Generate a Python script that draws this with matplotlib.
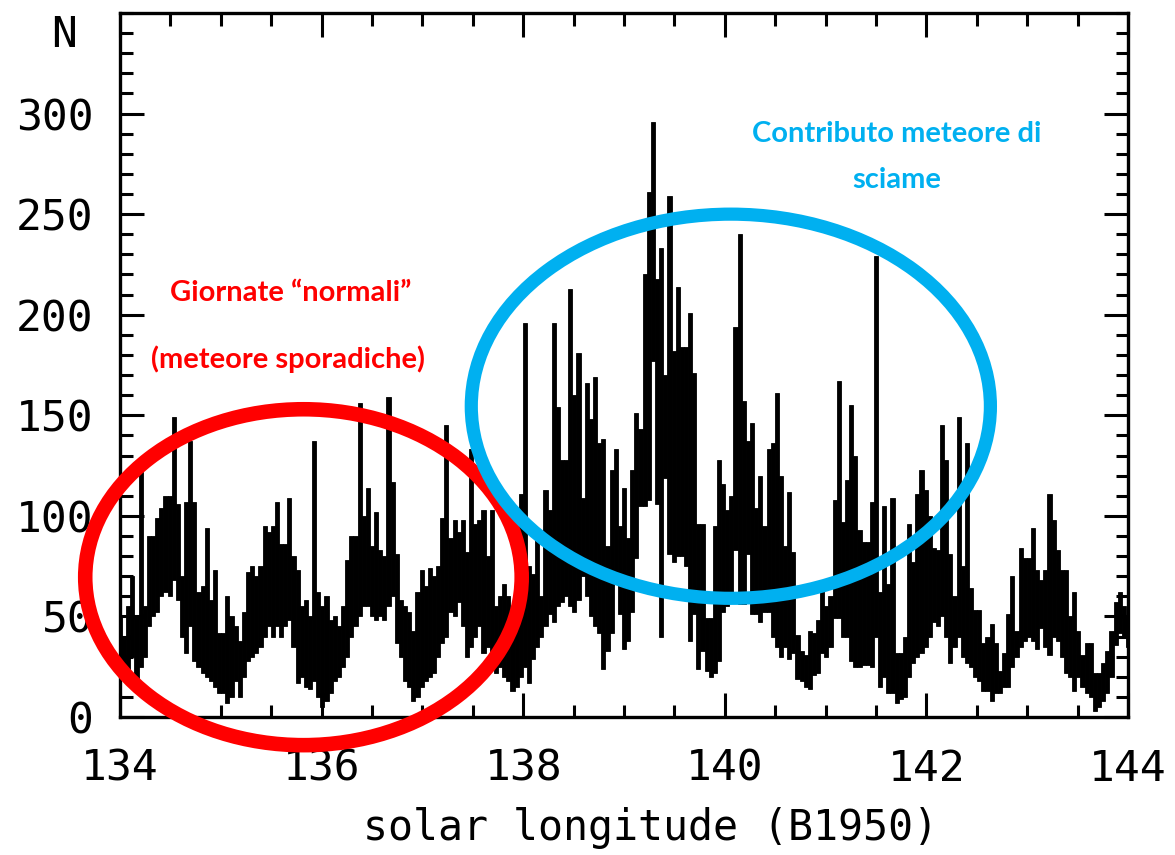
import numpy as np
import matplotlib
matplotlib.use("Agg")
import matplotlib.pyplot as plt
from matplotlib.patches import Ellipse
from matplotlib.ticker import MultipleLocator

# Counts per hourly bin, solar longitude 134 -> 144 (B1950):
# lowest and highest value reached inside each bin.
LON_START = 134.0
LON_END = 144.0
N_HIGH = [
    50, 40, 55, 70, 50, 122, 55, 90, 90, 99, 104, 110, 110, 149, 106, 70, 107, 137, 107, 62,
    65, 94, 58, 73, 42, 42, 60, 50, 45, 38, 52, 72, 75, 70, 75, 95, 92, 95, 107, 86,
    86, 109, 80, 73, 55, 58, 50, 137, 62, 55, 60, 48, 50, 45, 55, 78, 90, 90, 156, 100,
    114, 85, 102, 83, 80, 159, 117, 81, 58, 55, 52, 43, 62, 73, 65, 74, 70, 75, 99, 145,
    89, 98, 92, 98, 82, 133, 96, 98, 103, 80, 103, 55, 60, 66, 60, 45, 50, 111, 196, 75,
    71, 88, 60, 113, 103, 196, 154, 128, 128, 213, 160, 181, 109, 166, 148, 169, 136, 138, 85, 123,
    133, 95, 114, 89, 123, 151, 143, 220, 261, 296, 218, 233, 170, 259, 182, 214, 184, 184, 201, 171,
    96, 96, 49, 49, 95, 128, 116, 103, 110, 194, 240, 157, 137, 146, 104, 120, 95, 133, 136, 161,
    120, 85, 112, 82, 41, 33, 31, 43, 42, 48, 63, 55, 60, 108, 167, 97, 118, 155, 130, 93,
    87, 87, 107, 229, 62, 105, 66, 109, 32, 32, 40, 96, 77, 111, 123, 113, 100, 84, 83, 145,
    128, 81, 60, 149, 75, 136, 64, 53, 53, 37, 40, 46, 37, 23, 32, 51, 70, 43, 84, 79,
    79, 94, 73, 68, 73, 111, 98, 83, 73, 73, 50, 62, 43, 31, 37, 37, 22, 22, 27, 33,
    43, 57, 62, 55, 50,
]
N_LOW = [
    25, 20, 22, 30, 18, 25, 30, 45, 50, 52, 60, 62, 60, 68, 58, 40, 32, 45, 28, 25,
    22, 20, 18, 15, 12, 12, 7, 10, 18, 10, 20, 28, 30, 32, 35, 40, 45, 40, 45, 40,
    45, 48, 35, 17, 20, 15, 14, 18, 10, 5, 8, 12, 18, 20, 25, 30, 40, 45, 50, 55,
    55, 50, 48, 50, 48, 55, 60, 37, 30, 18, 15, 8, 10, 15, 18, 20, 22, 30, 37, 40,
    52, 50, 57, 45, 30, 35, 40, 45, 32, 35, 30, 22, 25, 20, 18, 13, 15, 20, 25, 17,
    29, 35, 40, 45, 51, 47, 55, 57, 60, 55, 52, 58, 70, 60, 50, 45, 42, 24, 33, 42,
    66, 51, 34, 38, 52, 79, 105, 105, 108, 177, 106, 40, 119, 81, 77, 80, 80, 75, 38, 51,
    24, 33, 23, 20, 22, 28, 52, 55, 60, 83, 56, 56, 81, 51, 51, 47, 52, 52, 40, 35,
    30, 35, 29, 32, 19, 18, 15, 14, 21, 22, 32, 30, 35, 49, 49, 40, 40, 28, 25, 25,
    26, 26, 25, 40, 15, 20, 12, 12, 7, 9, 10, 20, 27, 30, 32, 35, 40, 47, 45, 50,
    40, 27, 35, 40, 30, 27, 25, 20, 18, 13, 13, 8, 12, 12, 15, 15, 25, 30, 35, 38,
    40, 38, 34, 44, 35, 31, 40, 38, 30, 22, 20, 13, 20, 15, 12, 10, 3, 5, 8, 12,
    20, 36, 42, 40, 35,
]

X_TICKS = [134, 136, 138, 140, 142, 144]
Y_TICKS = [0, 50, 100, 150, 200, 250, 300]

# Highlighted regions: (center lon, center N, width, height)
SPORADIC_BOX = (135.82, 69.5, 4.33, 167)
SHOWER_BOX = (140.06, 154.5, 5.15, 191)

RED = "#ff0000"
BLUE = "#00b0f0"
AXIS_FONT = "DejaVu Sans Mono"

fig = plt.figure(figsize=(11.75, 8.55), dpi=100)
ax = fig.add_axes([120 / 1175, 138 / 855, 1008 / 1175, 704 / 855])

lon = np.linspace(LON_START, LON_END, len(N_HIGH))
step = lon[1] - lon[0]
low = np.array(N_LOW)
high = np.array(N_HIGH)
ax.bar(lon, high - low, bottom=low, width=step, color="black",
       edgecolor="black", linewidth=0.6)

ax.set_xlim(LON_START, LON_END)
ax.set_ylim(0, 350)
ax.set_xticks(X_TICKS)
ax.set_yticks(Y_TICKS)
ax.xaxis.set_minor_locator(MultipleLocator(0.5))
ax.yaxis.set_minor_locator(MultipleLocator(10))

ax.tick_params(which="both", direction="in", top=True, right=True, width=2.2)
ax.tick_params(which="major", length=17)
ax.tick_params(which="minor", length=9)
ax.tick_params(axis="x", which="major", pad=22)
ax.tick_params(axis="y", which="major", pad=19)
for lab in ax.get_xticklabels() + ax.get_yticklabels():
    lab.set_fontfamily(AXIS_FONT)
    lab.set_fontsize(31)
for sp in ax.spines.values():
    sp.set_linewidth(2.4)

ax.set_xlabel("solar longitude (B1950)", fontsize=30, family=AXIS_FONT, va="center")
ax.xaxis.set_label_coords(0.526, -0.158)
fig.text(64 / 1175, 1 - 35 / 855, "N", fontsize=31, family=AXIS_FONT,
         ha="center", va="center")

for (cx, cy, w, h), col, lw in [(SPORADIC_BOX, RED, 10.5), (SHOWER_BOX, BLUE, 9.5)]:
    ax.add_patch(Ellipse((cx, cy), w, h, fill=False, edgecolor=col, lw=lw,
                         clip_on=False, zorder=5))

note_font = dict(family="Lato", weight="bold", fontsize=21, ha="center", va="center")
ax.text(135.69, 210.6, "Giornate \u201cnormali\u201d", color=RED, **note_font)
ax.text(135.67, 178, "(meteore sporadiche)", color=RED, **note_font)
ax.text(141.71, 290, "Contributo meteore di", color=BLUE, **note_font)
ax.text(141.71, 267, "sciame", color=BLUE, **note_font)

fig.savefig("out.png", dpi=100)
